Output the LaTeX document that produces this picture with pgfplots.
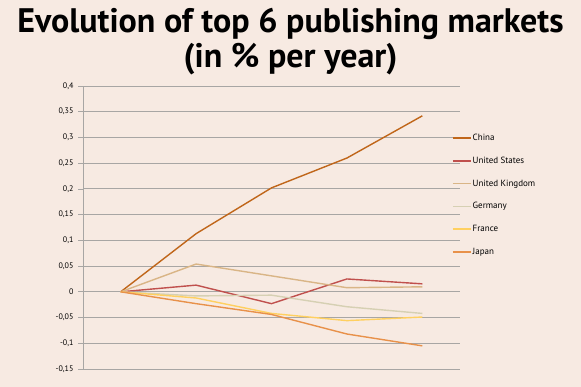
\documentclass[border=0pt]{standalone}
\usepackage{fontspec}
\setmainfont{PT Sans}
\usepackage{pgfplots}
\pgfplotsset{compat=1.18}
\definecolor{bg}{HTML}{F7EAE2}
\definecolor{cChina}{HTML}{C0661A}
\definecolor{cUS}{HTML}{C0504D}
\definecolor{cUK}{HTML}{D9B586}
\definecolor{cDE}{HTML}{D6D0B3}
\definecolor{cFR}{HTML}{FFD060}
\definecolor{cJP}{HTML}{E8914A}
\definecolor{gridc}{HTML}{A8A6A4}
\begin{document}
\begin{tikzpicture}
\fill[bg] (0pt,0pt) rectangle (581pt,-387pt);
\useasboundingbox (0pt,0pt) rectangle (581pt,-387pt);
\node[font=\bfseries\fontsize{34}{38}\selectfont, anchor=base, inner sep=0pt] at (290.5pt,-33pt) {Evolution of top 6 publishing markets};
\node[font=\bfseries\fontsize{34}{38}\selectfont, anchor=base, inner sep=0pt] at (290.5pt,-68pt) {(in \% per year)};
\begin{axis}[
  at={(83pt,-369pt)}, anchor=south west,
  scale only axis, width=377pt, height=283pt,
  xmin=-0.5, xmax=4.5, ymin=-0.15, ymax=0.4,
  axis x line=none, axis y line*=left,
  y axis line style={gridc, line width=0.8pt, -},
  ytick={-0.15,-0.1,-0.05,0,0.05,0.1,0.15,0.2,0.25,0.3,0.35,0.4},
  yticklabels={{-0,15},{-0,1},{-0,05},0,{0,05},{0,1},{0,15},{0,2},{0,25},{0,3},{0,35},{0,4}},
  yticklabel style={font=\fontsize{8}{10}\selectfont, xshift=-1pt},
  tick align=outside, major tick length=5pt,
  tick style={gridc, line width=0.8pt},
  ymajorgrids, grid style={gridc, line width=0.9pt},
  clip=false,
  legend cell align=left,
  legend style={draw=none, fill=none, at={(0.979,0.845)}, anchor=north west,
    font=\fontsize{9}{11}\selectfont, row sep=10.9pt, inner xsep=0pt,
    nodes={inner xsep=1pt}},
  legend image code/.code={\draw[#1, line width=1.4pt] (0pt,0pt) -- (18pt,0pt);},
  every axis plot/.append style={line width=1.4pt},
]
\addplot[cChina] coordinates {(0,0) (1,0.113) (2,0.202) (3,0.260) (4,0.342)};
\addlegendentry{China}
\addplot[cUS] coordinates {(0,0) (1,0.013) (2,-0.023) (3,0.025) (4,0.0155)};
\addlegendentry{United States}
\addplot[cUK] coordinates {(0,0) (1,0.054) (2,0.031) (3,0.008) (4,0.0097)};
\addlegendentry{United Kingdom}
\addplot[cDE] coordinates {(0,0) (1,-0.008) (2,-0.0065) (3,-0.029) (4,-0.042)};
\addlegendentry{Germany}
\addplot[cFR] coordinates {(0,0) (1,-0.012) (2,-0.042) (3,-0.056) (4,-0.049)};
\addlegendentry{France}
\addplot[cJP] coordinates {(0,0) (1,-0.023) (2,-0.044) (3,-0.082) (4,-0.105)};
\addlegendentry{Japan}
\end{axis}
\end{tikzpicture}
\end{document}
